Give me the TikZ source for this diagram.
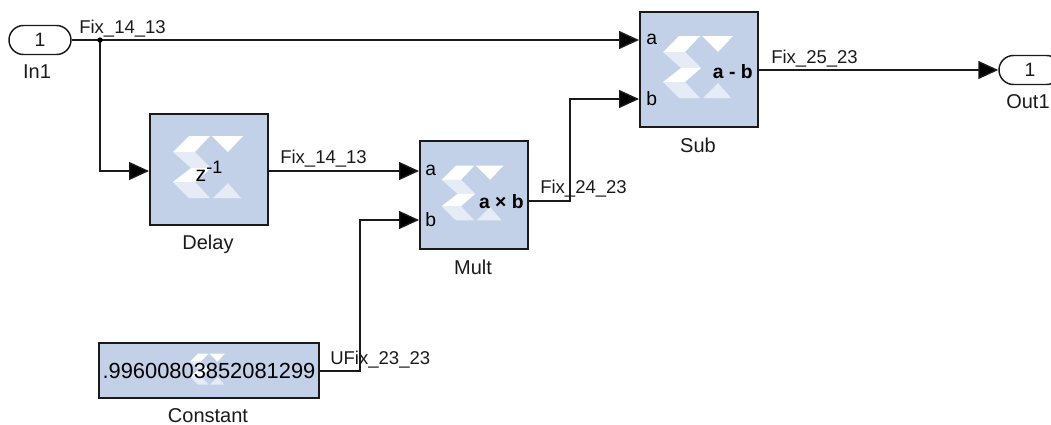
\documentclass[tikz,border=0pt]{standalone}
\usepackage{fontspec}
\setmainfont{Liberation Sans}
\usetikzlibrary{arrows.meta,shapes.misc,calc}
\definecolor{blockfill}{HTML}{C3D1E8}
\definecolor{logolow}{HTML}{E6ECF6}
\definecolor{inkcol}{HTML}{1A1A1A}
\newcommand{\lblfont}{\fontsize{13.9}{15}\selectfont}
\newcommand{\namefont}{\fontsize{15}{16}\selectfont}
\newcommand{\portfont}{\fontsize{14.5}{16}\selectfont}
\tikzset{
  x=0.75pt,y=-0.75pt,
  block/.style={draw=inkcol,line width=1.5pt,fill=blockfill,inner sep=0pt,minimum width=#1},
  sig/.style={text=inkcol,font=\lblfont,inner sep=0pt,anchor=base west},
  name label/.style={text=inkcol,font=\namefont,inner sep=0pt},
  port/.style={text=black,font=\portfont,inner sep=0pt,anchor=west},
  opname/.style={text=black,font=\portfont\bfseries,inner sep=0pt},
  term/.style={draw=inkcol,line width=1.1pt,fill=white,rounded rectangle,inner sep=0pt,minimum height=21.75pt,text=inkcol,font=\portfont},
  wire/.style={draw=inkcol,line width=1.1pt},
  arrowed/.style={wire,-{Triangle[length=15pt,width=13.5pt,fill=black]}},
  xlogo/.pic={
    \fill[white] (-35,-15) -- (-19,-31) -- (2,-31) -- (-13,-15) -- cycle;
    \fill[logolow] (-35,-15) -- (-13,-15) -- (3,1) -- (-17,1) -- cycle;
    \fill[white] (-35,15) -- (-17,1) -- (3,1) -- (-13,15) -- cycle;
    \fill[logolow] (-35,15) -- (-13,15) -- (2,31) -- (-19,31) -- cycle;
    \fill[white] (4,-31) -- (35,-31) -- (20,-15) -- cycle;
    \fill[logolow] (5,31) -- (20,16) -- (33,31) -- cycle;
  }
}
\begin{document}
\begin{tikzpicture}
\useasboundingbox (0,0) rectangle (1051,425);
% blocks
\node[block=88.5pt,minimum height=83.25pt] (delay) at (209,169.5) {};
\node[block=81pt,minimum height=81pt] (mult) at (474,195) {};
\node[block=88.5pt,minimum height=86.25pt] (sub) at (699,69.5) {};
\node[block=165pt,minimum height=41.25pt] (const) at (209,370.5) {};
% logos
\pic at (208,167) {xlogo};
\pic[scale=0.88] at (472.5,193) {xlogo};
\pic at (698,67) {xlogo};
\pic[scale=0.5] at (207.5,369) {xlogo};
% terminals
\node[term,minimum width=46.5pt] (in) at (40,40) {1};
\node[term,minimum width=46.5pt] (out) at (1030,70) {1};
% ports
\coordinate (suba) at (sub.west |- in.east);
\coordinate (subb) at (sub.west |- 0,99);
\coordinate (multa) at (mult.west |- 0,171);
\coordinate (multb) at (mult.west |- 0,220);
\coordinate (delayin) at (delay.west |- 0,171);
\coordinate (delayout) at (delay.east |- 0,171);
\coordinate (multout) at (mult.east |- 0,201);
\coordinate (subout) at (sub.east |- out.west);
\coordinate (constout) at (const.east |- 0,371);
\coordinate (j) at (100,40);
% wires
\draw[arrowed] (in.east) -- (suba);
\draw[arrowed] (j) |- (delayin);
\fill[black] (j) circle (2pt);
\draw[arrowed] (delayout) -- (multa);
\draw[arrowed] (multout) -| (570,99) -- (subb);
\draw[arrowed] (constout) -| (360,220) -- (multb);
\draw[arrowed] (subout) -- (out.west);
% signal labels
\node[sig] (s1) at (79,33) {Fix\_14\_13};
\node[sig] (s2) at (280,163) {Fix\_14\_13};
\node[sig] (s3) at (540,193) {Fix\_24\_23};
\node[sig] (s4) at (771,63) {Fix\_25\_23};
\node[sig] (s5) at (330,364) {UFix\_23\_23};
% block names
\node[name label] (n0) at (37,72) {In1};
\node[name label] (n1) at (208,244) {Delay};
\node[name label] (n2) at (473,267) {Mult};
\node[name label] (n3) at (698,145) {Sub};
\node[name label] (n4) at (208,416) {Constant};
\node[name label,anchor=west] (n5) at (1006,102) {Out1};
% port text
\node[port] (p1) at (646,39) {a};
\node[port] (p2) at (646,99) {b};
\node[port] (p3) at (425,170) {a};
\node[port] (p4) at (425,220) {b};
\node[opname,anchor=east] (o1) at (753,72) {a - b};
\node[opname,anchor=east] (o2) at (524,202) {a × b};
\node[inner sep=0pt,text=black,font=\fontsize{16}{18}\selectfont] (z) at (209,171) {z\raisebox{6pt}{\fontsize{13.5}{14}\selectfont -1}};
\node[inner sep=0pt,text=black,font=\fontsize{16.4}{18}\selectfont] (cv) at (209,371) {.99600803852081299};
\end{tikzpicture}
\end{document}
